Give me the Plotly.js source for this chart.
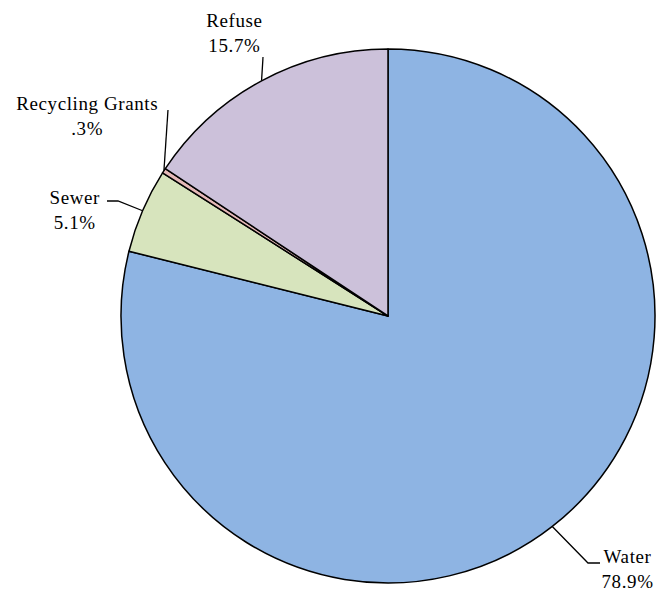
<!DOCTYPE html>
<html>
<head>
<meta charset="utf-8">
<script src="https://cdn.plot.ly/plotly-3.0.1.min.js"></script>
<style>
html,body{margin:0;padding:0;background:#fff;}
#chart{width:658px;height:594px;}
#chart .annotation-text{letter-spacing:0.6px;}
</style>
</head>
<body>
<div id="chart"></div>
<script>
const categories = ["Water", "Sewer", "Recycling Grants", "Refuse"];
const values = [78.9, 5.1, 0.3, 15.7];
const pctLabels = ["78.9%", "5.1%", ".3%", "15.7%"];
const colors = ["#8EB4E3", "#D7E4BD", "#E6B9B8", "#CCC1DA"];

const W = 658, H = 594;
const cx = 388, cy = 316, R = 267;

// label layout (pixel positions for text and leader elbows)
const labelPos = {
  "Water":            {tx: 601, ty: 569, xa: "left",   elbow: [[588,563],[600,563]]},
  "Sewer":            {tx: 75,  ty: 210, xa: "center", elbow: [[118,201],[107,201]]},
  "Recycling Grants": {tx: 87,  ty: 116, xa: "center", elbow: [[168,110]]},
  "Refuse":           {tx: 234, ty: 33,  xa: "center", elbow: [[263,57]]}
};

const px = x => x / W;
const py = y => 1 - y / H;

const total = values.reduce((a, b) => a + b, 0);
let cum = 0;
const shapes = [], annotations = [];
categories.forEach((c, i) => {
  const mid = (cum + values[i] / 2) / total * 2 * Math.PI;
  cum += values[i];
  const ex = cx + R * Math.sin(mid), ey = cy - R * Math.cos(mid);
  const lp = labelPos[c];
  let path = `M ${px(ex)} ${py(ey)}`;
  lp.elbow.forEach(p => { path += ` L ${px(p[0])} ${py(p[1])}`; });
  shapes.push({type: "path", xref: "paper", yref: "paper", path: path,
    line: {color: "black", width: 1.3}});
  annotations.push({xref: "paper", yref: "paper", x: px(lp.tx), y: py(lp.ty),
    xanchor: lp.xa, yanchor: "middle", showarrow: false, align: "center",
    text: c + "<br>" + pctLabels[i],
    font: {family: "Liberation Serif", size: 19, color: "black"}});
});

const trace = {
  type: "pie",
  labels: categories,
  values: values,
  sort: false,
  direction: "clockwise",
  rotation: 0,
  textinfo: "none",
  hoverinfo: "label+percent",
  marker: {colors: colors, line: {color: "black", width: 1.5}},
  domain: {x: [px(cx - R), px(cx + R)], y: [py(cy + R), py(cy - R)]}
};

Plotly.newPlot("chart", [trace], {
  width: W, height: H,
  margin: {l: 0, r: 0, t: 0, b: 0},
  showlegend: false,
  paper_bgcolor: "white",
  shapes: shapes,
  annotations: annotations
}, {displayModeBar: false, staticPlot: true});
</script>
</body>
</html>
